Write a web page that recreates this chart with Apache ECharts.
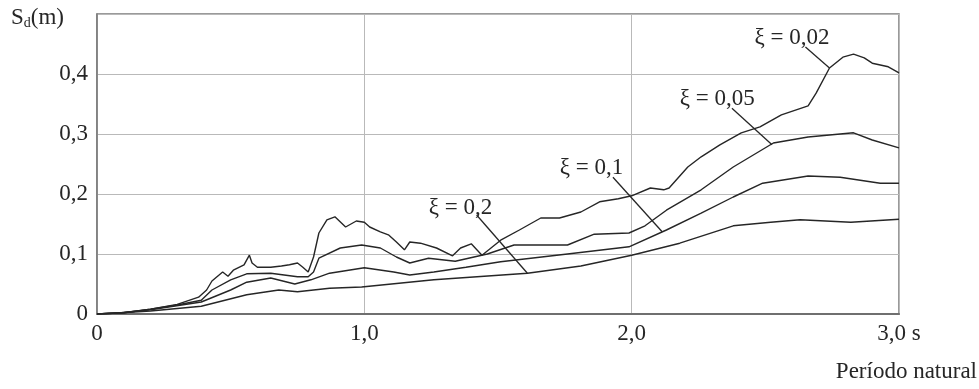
<!DOCTYPE html>
<html>
<head>
<meta charset="utf-8">
<script src="https://cdn.jsdelivr.net/npm/echarts@6/dist/echarts.min.js"></script>
<style>
  html, body { margin: 0; padding: 0; background: #fff; }
  #chart { width: 979px; height: 389px; }
</style>
</head>
<body>
<div id="chart"></div>
<script>
// Displacement response spectra S_d(T) for four damping ratios
const periods002 = [0, 0.10, 0.20, 0.30, 0.38, 0.41, 0.43, 0.47, 0.49, 0.51, 0.55, 0.57, 0.58, 0.60, 0.65, 0.69, 0.72, 0.75, 0.77, 0.79, 0.81, 0.83, 0.86, 0.89, 0.93, 0.97, 1.00, 1.02, 1.06, 1.09, 1.12, 1.15, 1.17, 1.21, 1.27, 1.33, 1.36, 1.40, 1.44, 1.51, 1.58, 1.66, 1.73, 1.81, 1.88, 1.95, 2.00, 2.07, 2.12, 2.14, 2.21, 2.26, 2.33, 2.41, 2.48, 2.56, 2.66, 2.69, 2.74, 2.79, 2.83, 2.87, 2.90, 2.96, 3.00];
const sd002 = [0, 0.002, 0.008, 0.016, 0.028, 0.040, 0.055, 0.070, 0.063, 0.073, 0.082, 0.098, 0.085, 0.078, 0.078, 0.080, 0.082, 0.085, 0.078, 0.070, 0.095, 0.135, 0.157, 0.162, 0.145, 0.155, 0.153, 0.145, 0.137, 0.132, 0.120, 0.107, 0.120, 0.118, 0.110, 0.097, 0.110, 0.117, 0.098, 0.123, 0.140, 0.160, 0.160, 0.170, 0.187, 0.192, 0.197, 0.210, 0.207, 0.210, 0.245, 0.262, 0.282, 0.302, 0.312, 0.332, 0.347, 0.368, 0.410, 0.428, 0.433, 0.427, 0.418, 0.412, 0.402];

const periods005 = [0, 0.10, 0.20, 0.30, 0.39, 0.43, 0.50, 0.56, 0.65, 0.75, 0.79, 0.81, 0.83, 0.91, 0.99, 1.06, 1.12, 1.17, 1.24, 1.34, 1.46, 1.56, 1.68, 1.76, 1.86, 1.99, 2.05, 2.13, 2.26, 2.38, 2.53, 2.66, 2.83, 2.90, 3.00];
const sd005 = [0, 0.002, 0.008, 0.015, 0.023, 0.040, 0.057, 0.067, 0.068, 0.062, 0.062, 0.070, 0.093, 0.110, 0.115, 0.110, 0.095, 0.085, 0.093, 0.088, 0.100, 0.115, 0.115, 0.115, 0.133, 0.135, 0.147, 0.173, 0.207, 0.245, 0.285, 0.295, 0.302, 0.290, 0.277];

const periods01 = [0, 0.09, 0.20, 0.39, 0.50, 0.56, 0.65, 0.74, 0.80, 0.87, 1.00, 1.11, 1.17, 1.26, 1.38, 1.51, 1.76, 1.99, 2.13, 2.26, 2.38, 2.49, 2.66, 2.78, 2.93, 3.00];
const sd01 = [0, 0.002, 0.007, 0.020, 0.040, 0.053, 0.060, 0.050, 0.057, 0.068, 0.077, 0.070, 0.065, 0.070, 0.078, 0.087, 0.100, 0.112, 0.140, 0.168, 0.195, 0.218, 0.230, 0.228, 0.218, 0.218];

const periods02 = [0, 0.09, 0.20, 0.39, 0.56, 0.68, 0.75, 0.87, 0.99, 1.26, 1.61, 1.81, 2.00, 2.18, 2.38, 2.52, 2.63, 2.82, 3.00];
const sd02 = [0, 0.002, 0.005, 0.013, 0.032, 0.040, 0.037, 0.043, 0.045, 0.057, 0.068, 0.080, 0.098, 0.118, 0.147, 0.153, 0.157, 0.153, 0.158];

// Curve labels with leader lines: text anchor and leader start/end in data units
const labelTexts = ['ξ = 0,02', 'ξ = 0,05', 'ξ = 0,1', 'ξ = 0,2'];
const labelAt = [[2.60, 0.460], [2.32, 0.358], [1.85, 0.243], [1.36, 0.177]];
const leaderFrom = [[2.65, 0.445], [2.375, 0.343], [1.93, 0.228], [1.42, 0.165]];
const leaderTo = [[2.74, 0.410], [2.525, 0.282], [2.114, 0.137], [1.61, 0.068]];

const xTickText = ['0', '1,0', '2,0', '3,0 s'];

const FONT = '"Liberation Serif", "DejaVu Serif", serif';
const FS = 23;
const INK = '#262626';

function zip(xs, ys) { return xs.map((x, i) => [x, ys[i]]); }

const chart = echarts.init(document.getElementById('chart'));

const lineStyle = { color: INK, width: 1.4 };
function curve(name, xs, ys) {
  return { name, type: 'line', data: zip(xs, ys), showSymbol: false, symbol: 'none',
           lineStyle, animation: false, z: 5 };
}

const option = {
  animation: false,
  grid: { left: 97, right: 80, top: 14, bottom: 75, show: true, borderColor: '#7a7a7a', borderWidth: 1.5, backgroundColor: 'transparent' },
  xAxis: {
    type: 'value', min: 0, max: 3, interval: 1,
    axisLine: { show: true, onZero: false, lineStyle: { color: '#6f6f6f', width: 2 } },
    axisTick: { show: false },
    splitLine: { show: true, lineStyle: { color: '#b9b9b9', width: 1 } },
    axisLabel: { margin: 8, color: INK, fontFamily: FONT, fontSize: FS,
                 formatter: v => xTickText[Math.round(v)] }
  },
  yAxis: {
    type: 'value', min: 0, max: 0.5, interval: 0.1,
    axisLine: { show: true, lineStyle: { color: '#7a7a7a', width: 1.5 } },
    axisTick: { show: false },
    splitLine: { show: true, lineStyle: { color: '#b9b9b9', width: 1 } },
    axisLabel: { margin: 9, color: INK, fontFamily: FONT, fontSize: FS,
                 formatter: v => (v === 0 ? '0' : (v > 0.45 ? '' : v.toFixed(1).replace('.', ','))) }
  },
  series: [
    curve('ξ = 0,02', periods002, sd002),
    curve('ξ = 0,05', periods005, sd005),
    curve('ξ = 0,1', periods01, sd01),
    curve('ξ = 0,2', periods02, sd02)
  ]
};
chart.setOption(option);

// Annotations placed through the axes' own coordinate conversion
const g = [];
labelTexts.forEach((t, i) => {
  const p = chart.convertToPixel({ gridIndex: 0 }, labelAt[i]);
  const a = chart.convertToPixel({ gridIndex: 0 }, leaderFrom[i]);
  const b = chart.convertToPixel({ gridIndex: 0 }, leaderTo[i]);
  g.push({ type: 'text', x: p[0], y: p[1], z: 10,
           style: { text: t, font: FS + 'px ' + FONT, fill: INK, align: 'center', verticalAlign: 'middle' } });
  g.push({ type: 'line', z: 10, shape: { x1: a[0], y1: a[1], x2: b[0], y2: b[1] },
           style: { stroke: INK, lineWidth: 1.3 } });
});
g.push({ type: 'text', x: 11, y: 18, z: 10,
         style: { rich: { s: { font: FS + 'px ' + FONT, fill: INK }, d: { font: '14px ' + FONT, fill: INK, padding: [11, 0, 0, 0] } },
                  text: '{s|S}{d|d}{s|(m)}', verticalAlign: 'middle' } });
g.push({ type: 'text', x: 977, y: 372, z: 10,
         style: { text: 'Período natural', font: FS + 'px ' + FONT, fill: INK, align: 'right', verticalAlign: 'middle' } });
chart.setOption({ graphic: g });
</script>
</body>
</html>
